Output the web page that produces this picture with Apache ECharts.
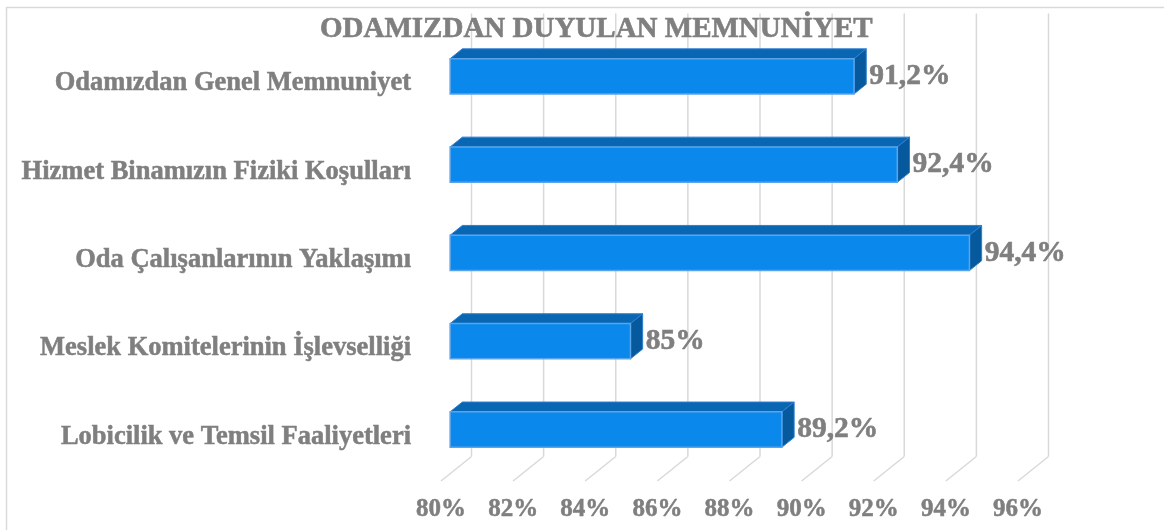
<!DOCTYPE html>
<html>
<head>
<meta charset="utf-8">
<script src="https://cdn.jsdelivr.net/npm/echarts@6/dist/echarts.min.js"></script>
<style>
  html, body { margin: 0; padding: 0; background: #fff; }
  #chart { width: 1164px; height: 530px; }
</style>
</head>
<body>
<div id="chart"></div>
<script>
var chartTitle = 'ODAMIZDAN DUYULAN MEMNUNİYET';
var categories = [
  'Odamızdan Genel Memnuniyet',
  'Hizmet Binamızın Fiziki Koşulları',
  'Oda Çalışanlarının Yaklaşımı',
  'Meslek Komitelerinin İşlevselliği',
  'Lobicilik ve Temsil Faaliyetleri'
];
var values = [91.2, 92.4, 94.4, 85, 89.2];
var ticks = [80, 82, 84, 86, 88, 90, 92, 94, 96];

var FONT = "'Liberation Serif', 'Times New Roman', serif";
var GRAY = '#7f7f7f';
var GRID_COLOR = '#d9d9d9';

// depth of the 3d box (front floor -> back wall)
var DX = 30.5, DY = -24.5;
// bars sit between 30% and 70% of the depth
var BAR_FRONT = 0.3, BAR_BACK = 0.7;

function pct(v) {
  return String(v).replace('.', ',') + '%';
}

function renderGrid(params, api) {
  var p = api.coord([api.value(0), 0]);
  var cs = params.coordSys;
  var floorY = cs.y + cs.height;
  var xb = p[0] + DX;
  var style = { stroke: GRID_COLOR, lineWidth: 1.5, fill: null };
  return {
    type: 'group',
    children: [
      { type: 'line', shape: { x1: xb, y1: cs.y - 26, x2: xb, y2: floorY + DY }, style: style },
      { type: 'line', shape: { x1: xb, y1: floorY + DY, x2: p[0], y2: floorY }, style: style }
    ]
  };
}

function renderBar(params, api) {
  var val = api.value(0);
  var idx = api.value(1);
  var start = api.coord([ticks[0], idx]);
  var end = api.coord([val, idx]);
  var h = api.size([0, 1])[1] * 0.4;
  var fx = DX * BAR_FRONT, fy = DY * BAR_FRONT;
  var ox = DX * (BAR_BACK - BAR_FRONT), oy = DY * (BAR_BACK - BAR_FRONT);
  var x0 = start[0] + fx, x1 = end[0] + fx;
  var cy = start[1] + fy;
  var yt = cy - h / 2, yb = cy + h / 2;
  return {
    type: 'group',
    children: [
      {
        type: 'polygon',
        shape: { points: [[x0, yt], [x1, yt], [x1 + ox, yt + oy], [x0 + ox, yt + oy]] },
        style: { fill: '#0866b3', stroke: '#2f7fcf', lineWidth: 1 }
      },
      {
        type: 'polygon',
        shape: { points: [[x1, yt], [x1 + ox, yt + oy], [x1 + ox, yb + oy], [x1, yb]] },
        style: { fill: '#07599e', stroke: '#2f7fcf', lineWidth: 1 }
      },
      {
        type: 'rect',
        shape: { x: x0, y: yt, width: x1 - x0, height: h },
        style: { fill: '#0a88ec', stroke: '#5aa4ea', lineWidth: 1.5 }
      },
      {
        type: 'text',
        x: x1 + ox + 3,
        y: cy,
        style: {
          text: pct(val),
          fill: GRAY,
          stroke: GRAY,
          lineWidth: 0.6,
          font: 'bold 29.5px ' + FONT,
          verticalAlign: 'middle',
          align: 'left'
        }
      }
    ]
  };
}

var chart = echarts.init(document.getElementById('chart'));
chart.setOption({
  animation: false,
  backgroundColor: '#fff',
  title: {
    text: chartTitle,
    left: 315,
    top: 10,
    textStyle: {
      fontFamily: FONT, fontSize: 29, fontWeight: 'bold', color: GRAY,
      textBorderColor: GRAY, textBorderWidth: 0.6
    }
  },
  graphic: [{
    type: 'rect',
    shape: { x: 6.5, y: 7.5, width: 1200, height: 600 },
    style: { fill: null, stroke: GRID_COLOR, lineWidth: 1.5 },
    z: -1
  }],
  grid: { left: 441, right: 146, top: 39.5, bottom: 49 },
  xAxis: {
    type: 'value',
    min: 80,
    max: 96,
    interval: 2,
    axisLine: { show: false },
    axisTick: { show: false },
    splitLine: { show: false },
    axisLabel: {
      formatter: '{value}%',
      margin: 16,
      fontFamily: FONT,
      fontSize: 25,
      fontWeight: 'bold',
      color: GRAY,
      textBorderColor: GRAY,
      textBorderWidth: 0.5
    }
  },
  yAxis: {
    type: 'category',
    inverse: true,
    data: categories,
    axisLine: { show: false },
    axisTick: { show: false },
    axisLabel: {
      margin: 30,
      fontFamily: FONT,
      fontSize: 26.5,
      fontWeight: 'bold',
      color: GRAY,
      textBorderColor: GRAY,
      textBorderWidth: 0.5
    }
  },
  series: [
    {
      type: 'custom',
      renderItem: renderGrid,
      clip: false,
      z: 1,
      encode: { x: 0, y: 1 },
      data: ticks.map(function (t) { return [t, 0]; })
    },
    {
      type: 'custom',
      renderItem: renderBar,
      clip: false,
      z: 2,
      encode: { x: 0, y: 1 },
      data: values.map(function (v, i) { return [v, i]; })
    }
  ]
});
</script>
</body>
</html>
